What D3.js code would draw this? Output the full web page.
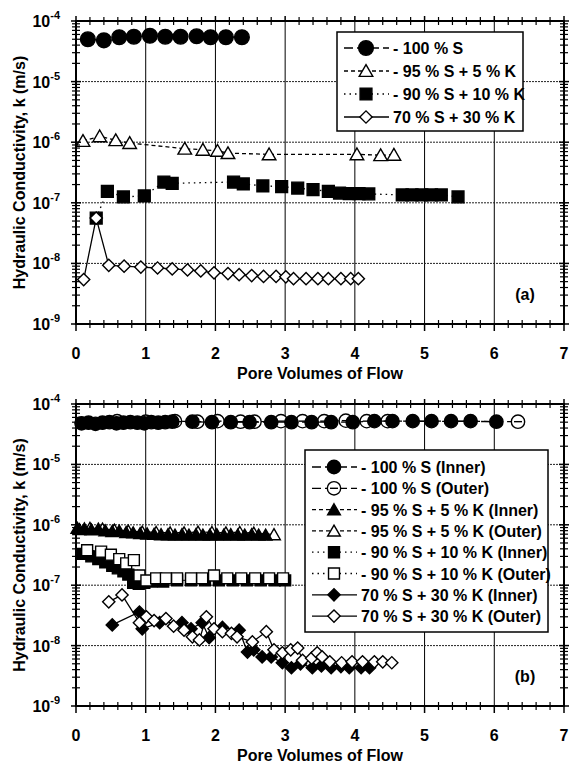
<!DOCTYPE html>
<html>
<head>
<meta charset="utf-8">
<script src="https://cdn.jsdelivr.net/npm/d3@7"></script>
<style>
  body { margin: 0; background: #fff; }
  svg { display: block; }
  text { font-family: "Liberation Sans", Arial, sans-serif; font-weight: bold; fill: #000; }
</style>
</head>
<body>
<svg id="chart" width="569" height="764"></svg>
<script>
// ---- panel (a) ----
const a100_x = [0.17, 0.40, 0.62, 0.83, 1.06, 1.28, 1.50, 1.73, 1.93, 2.15, 2.38];
const a100_k = [5.0e-5, 4.8e-5, 5.4e-5, 5.5e-5, 5.7e-5, 5.5e-5, 5.5e-5, 5.6e-5, 5.4e-5, 5.4e-5, 5.4e-5];

const a95_x = [0.10, 0.34, 0.57, 0.77, 1.56, 1.82, 2.03, 2.18, 2.77, 4.03, 4.37, 4.56];
const a95_k = [1.05e-6, 1.25e-6, 1.08e-6, 0.97e-6, 7.8e-7, 7.5e-7, 7.2e-7, 6.6e-7, 6.3e-7, 6.3e-7, 6.1e-7, 6.2e-7];

const a90_x = [0.29, 0.45, 0.68, 0.98, 1.26, 1.38, 2.26, 2.40, 2.68, 2.95, 3.18, 3.40, 3.62, 3.78, 3.92, 4.06, 4.20, 4.68, 4.82, 4.96, 5.10, 5.24, 5.48];
const a90_k = [5.6e-8, 1.55e-7, 1.25e-7, 1.3e-7, 2.2e-7, 2.1e-7, 2.2e-7, 2.05e-7, 1.9e-7, 1.85e-7, 1.75e-7, 1.65e-7, 1.55e-7, 1.45e-7, 1.42e-7, 1.42e-7, 1.4e-7, 1.35e-7, 1.35e-7, 1.35e-7, 1.35e-7, 1.35e-7, 1.25e-7];

const a70_x = [0.11, 0.29, 0.47, 0.69, 0.93, 1.17, 1.38, 1.60, 1.79, 1.98, 2.18, 2.34, 2.52, 2.69, 2.87, 3.01, 3.12, 3.30, 3.47, 3.62, 3.80, 3.94, 4.05];
const a70_k = [5.4e-9, 5.6e-8, 9.3e-9, 9.0e-9, 8.7e-9, 8.4e-9, 8.1e-9, 7.8e-9, 7.5e-9, 7.0e-9, 6.8e-9, 6.5e-9, 6.3e-9, 6.1e-9, 6.1e-9, 6.0e-9, 5.6e-9, 5.6e-9, 5.6e-9, 5.6e-9, 5.6e-9, 5.6e-9, 5.6e-9];

// ---- panel (b) ----
const b100in_x = [0.08, 0.18, 0.28, 0.38, 0.48, 0.58, 0.68, 0.78, 0.88, 0.98, 1.08, 1.18, 1.28, 1.38, 1.67, 1.95, 2.22, 2.49, 2.80, 3.09, 3.38, 3.66, 3.97, 4.28, 4.54, 4.83, 5.10, 5.38, 5.66, 6.03];
const b100in_k = [4.8e-5, 4.9e-5, 4.7e-5, 4.9e-5, 5.0e-5, 4.8e-5, 4.9e-5, 5.0e-5, 4.9e-5, 4.8e-5, 5.0e-5, 4.9e-5, 5.0e-5, 5.1e-5, 5.1e-5, 5.0e-5, 5.0e-5, 5.0e-5, 5.0e-5, 5.0e-5, 5.0e-5, 5.0e-5, 5.0e-5, 5.2e-5, 5.2e-5, 5.2e-5, 5.2e-5, 5.2e-5, 5.2e-5, 5.1e-5];

const b100out_x = [0.59, 1.00, 1.42, 1.74, 2.03, 2.36, 2.56, 2.94, 3.25, 3.56, 3.87, 4.17, 4.47, 6.34];
const b100out_k = [5.2e-5, 5.1e-5, 5.2e-5, 5.1e-5, 5.2e-5, 5.1e-5, 5.1e-5, 5.2e-5, 5.2e-5, 5.2e-5, 5.3e-5, 5.2e-5, 5.2e-5, 5.1e-5];

const b95in_x = [0.02, 0.12, 0.22, 0.32, 0.42, 0.52, 0.62, 0.72, 0.82, 0.92, 1.02, 1.12, 1.22, 1.32, 1.42, 1.52, 1.62, 1.72, 1.82, 1.92, 2.02, 2.12, 2.22, 2.32, 2.42, 2.52, 2.62, 2.72];
const b95in_k = [8.8e-7, 8.6e-7, 8.3e-7, 8.5e-7, 8.0e-7, 7.8e-7, 7.9e-7, 7.5e-7, 7.4e-7, 7.2e-7, 7.1e-7, 7.0e-7, 6.9e-7, 6.9e-7, 6.8e-7, 6.9e-7, 6.8e-7, 6.9e-7, 6.8e-7, 6.8e-7, 6.9e-7, 6.8e-7, 6.9e-7, 6.8e-7, 6.8e-7, 6.9e-7, 6.8e-7, 6.8e-7];

const b95out_x = [0.05, 0.20, 0.38, 0.55, 0.75, 0.95, 1.15, 1.35, 1.55, 1.75, 1.95, 2.15, 2.35, 2.55, 2.84];
const b95out_k = [8.4e-7, 8.8e-7, 8.5e-7, 8.2e-7, 7.9e-7, 7.6e-7, 7.5e-7, 7.4e-7, 7.4e-7, 7.6e-7, 7.5e-7, 7.4e-7, 7.5e-7, 7.3e-7, 6.9e-7];

const b90in_x = [0.10, 0.22, 0.32, 0.42, 0.52, 0.60, 0.68, 0.75, 0.82, 0.90, 0.98, 1.08, 1.25, 1.45, 1.65, 1.85, 2.05, 2.25, 2.45, 2.65, 2.85, 3.00];
const b90in_k = [3.3e-7, 3.0e-7, 2.7e-7, 2.4e-7, 2.1e-7, 1.9e-7, 1.7e-7, 1.5e-7, 1.1e-7, 1.05e-7, 1.1e-7, 1.15e-7, 1.15e-7, 1.2e-7, 1.2e-7, 1.2e-7, 1.2e-7, 1.2e-7, 1.2e-7, 1.2e-7, 1.2e-7, 1.2e-7];

const b90out_x = [0.16, 0.36, 0.50, 0.62, 0.72, 0.83, 0.91, 1.01, 1.15, 1.29, 1.45, 1.65, 1.81, 1.98, 2.17, 2.37, 2.57, 2.77, 2.97];
const b90out_k = [3.8e-7, 3.6e-7, 3.2e-7, 2.7e-7, 2.3e-7, 2.6e-7, 1.45e-7, 1.2e-7, 1.3e-7, 1.3e-7, 1.3e-7, 1.3e-7, 1.3e-7, 1.45e-7, 1.3e-7, 1.3e-7, 1.3e-7, 1.3e-7, 1.3e-7];

const b70in_x = [0.52, 0.91, 0.95, 1.20, 1.52, 1.65, 1.81, 1.91, 2.10, 2.34, 2.46, 2.55, 2.67, 2.80, 2.96, 3.09, 3.22, 3.39, 3.52, 3.66, 3.80, 3.92, 4.09, 4.21];
const b70in_k = [2.2e-8, 3.6e-8, 1.9e-8, 2.4e-8, 2.4e-8, 1.9e-8, 2.4e-8, 1.35e-8, 2.0e-8, 1.8e-8, 7.8e-9, 8.5e-9, 6.5e-9, 6.5e-9, 5.2e-9, 4.3e-9, 5.0e-9, 4.3e-9, 4.6e-9, 4.3e-9, 4.5e-9, 4.3e-9, 4.3e-9, 4.3e-9];

const b70out_x = [0.47, 0.66, 0.91, 1.01, 1.12, 1.29, 1.40, 1.55, 1.67, 1.77, 1.87, 1.98, 2.10, 2.23, 2.31, 2.53, 2.73, 2.84, 2.96, 3.08, 3.18, 3.25, 3.38, 3.46, 3.53, 3.64, 3.81, 3.96, 4.11, 4.28, 4.40, 4.53];
const b70out_k = [5.3e-8, 6.9e-8, 2.4e-8, 3.0e-8, 2.6e-8, 2.8e-8, 2.1e-8, 1.8e-8, 1.4e-8, 1.24e-8, 3.0e-8, 1.9e-8, 1.7e-8, 1.6e-8, 1.4e-8, 1.15e-8, 1.7e-8, 8.5e-9, 7.6e-9, 8.5e-9, 9.1e-9, 5.7e-9, 6.2e-9, 7.6e-9, 6.5e-9, 5.4e-9, 5.2e-9, 5.4e-9, 5.4e-9, 5.4e-9, 5.4e-9, 5.2e-9];

const xTicks = [0, 1, 2, 3, 4, 5, 6, 7];
const yExponents = [-4, -5, -6, -7, -8, -9];
const xTitle = "Pore Volumes of Flow";
const yTitle = "Hydraulic Conductivity, k (m/s)";

const dashes = { long: "9,4", dash: "4,3", dot: "1.5,4", solid: null };

const svg = d3.select("#chart");

function markerPath(shape, size) {
  if (shape === "diamond") return d3.symbol(d3.symbolSquare, size)();
  if (shape === "triangle") return d3.symbol(d3.symbolTriangle, size)();
  if (shape === "square") return d3.symbol(d3.symbolSquare, size)();
  return d3.symbol(d3.symbolCircle, size)();
}

function drawMarker(sel, s, cx, cy) {
  const m = sel.append("g").attr("transform", `translate(${cx},${cy})`);
  m.append("path")
    .attr("d", markerPath(s.shape, s.size))
    .attr("transform", s.shape === "diamond" ? "rotate(45)" : s.shape === "triangle" ? "translate(0,1.5)" : null)
    .attr("fill", s.filled ? "#000" : "#fff")
    .attr("stroke", "#000")
    .attr("stroke-width", 1.4);
  if (s.bar) {
    m.append("line").attr("x1", -4).attr("x2", 4).attr("stroke", "#000").attr("stroke-width", 1.4);
  }
}

function drawPanel(p) {
  const x = d3.scaleLinear().domain([0, 7]).range([76, 564]);
  const y = d3.scaleLog().domain([1e-9, 1e-4]).range([p.bottom, p.top]);
  const g = svg.append("g");

  // grid
  g.selectAll(".vg").data(xTicks.slice(1, -1)).enter().append("line")
    .attr("x1", d => x(d)).attr("x2", d => x(d))
    .attr("y1", p.top).attr("y2", p.bottom)
    .attr("stroke", "#000").attr("stroke-width", 1);
  g.selectAll(".hg").data(yExponents.slice(1, -1)).enter().append("line")
    .attr("x1", x(0)).attr("x2", x(7))
    .attr("y1", d => y(Math.pow(10, d))).attr("y2", d => y(Math.pow(10, d)))
    .attr("stroke", "#222").attr("stroke-width", 1).attr("stroke-dasharray", "2,1");

  // series
  const line = d3.line().x(d => x(d[0])).y(d => y(d[1]));
  p.series.forEach(s => {
    const pts = s.x.map((v, i) => [v, s.k[i]]);
    const sg = g.append("g");
    sg.append("path").attr("d", line(pts))
      .attr("fill", "none").attr("stroke", "#000").attr("stroke-width", 1.3)
      .attr("stroke-dasharray", dashes[s.dash]);
    pts.forEach(d => drawMarker(sg, s, x(d[0]), y(d[1])));
  });

  // frame
  g.append("rect")
    .attr("x", x(0)).attr("y", p.top)
    .attr("width", x(7) - x(0)).attr("height", p.bottom - p.top)
    .attr("fill", "none").attr("stroke", "#000").attr("stroke-width", 2);

  // x ticks (minor crossing, major outward)
  const minorX = d3.range(0, 7.001, 0.2).filter(v => Math.abs(v - Math.round(v)) > 1e-6);
  [p.top, p.bottom].forEach(yy => {
    g.append("g").selectAll("line").data(minorX).enter().append("line")
      .attr("x1", d => x(d)).attr("x2", d => x(d))
      .attr("y1", yy - 4).attr("y2", yy + 4)
      .attr("stroke", "#000").attr("stroke-width", 1.2);
  });
  g.append("g").selectAll("line").data(xTicks).enter().append("line")
    .attr("x1", d => x(d)).attr("x2", d => x(d))
    .attr("y1", p.bottom).attr("y2", p.bottom + 7)
    .attr("stroke", "#000").attr("stroke-width", 1.5);
  g.append("g").selectAll("line").data(xTicks).enter().append("line")
    .attr("x1", d => x(d)).attr("x2", d => x(d))
    .attr("y1", p.top - 5).attr("y2", p.top)
    .attr("stroke", "#000").attr("stroke-width", 1.5);

  // y ticks
  const minorY = [];
  yExponents.slice(1).forEach(e => d3.range(2, 10).forEach(m => minorY.push(m * Math.pow(10, e))));
  [x(0), x(7)].forEach(xx => {
    g.append("g").selectAll("line").data(minorY).enter().append("line")
      .attr("x1", xx - 4).attr("x2", xx + 4)
      .attr("y1", d => y(d)).attr("y2", d => y(d))
      .attr("stroke", "#000").attr("stroke-width", 1.2);
    g.append("g").selectAll("line").data(yExponents).enter().append("line")
      .attr("x1", xx - 5).attr("x2", xx + 5)
      .attr("y1", d => y(Math.pow(10, d))).attr("y2", d => y(Math.pow(10, d)))
      .attr("stroke", "#000").attr("stroke-width", 1.5);
  });

  // tick labels
  g.selectAll(".xl").data(xTicks).enter().append("text")
    .attr("x", d => x(d)).attr("y", p.bottom + 35)
    .attr("text-anchor", "middle").attr("font-size", 16)
    .text(d => d);
  const yl = g.selectAll(".yl").data(yExponents).enter().append("text")
    .attr("x", x(0) - 16).attr("y", d => y(Math.pow(10, d)) + 6)
    .attr("text-anchor", "end").attr("font-size", 16);
  yl.append("tspan").text("10");
  yl.append("tspan").attr("dy", -8).attr("font-size", 11).text(d => "-" + Math.abs(d));

  // titles
  g.append("text").attr("x", (x(0) + x(7)) / 2).attr("y", p.bottom + 55)
    .attr("text-anchor", "middle").attr("font-size", 16).text(xTitle);
  g.append("text")
    .attr("transform", `translate(25,${(p.top + p.bottom) / 2}) rotate(-90)`)
    .attr("text-anchor", "middle").attr("font-size", 16).text(yTitle);
  g.append("text").attr("x", 525).attr("y", p.bottom - 24)
    .attr("text-anchor", "middle").attr("font-size", 16).text(p.tag);

  // legend
  const L = p.legend;
  const lg = g.append("g");
  lg.append("rect").attr("x", L.x).attr("y", L.y).attr("width", L.w).attr("height", L.h)
    .attr("fill", "#fff").attr("stroke", "#000").attr("stroke-width", 1.5);
  p.series.slice().sort((a, b) => a.order - b.order).forEach((s, i) => {
    const yy = L.y + L.first + i * L.step;
    lg.append("line").attr("x1", L.x + 7).attr("x2", L.x + 52).attr("y1", yy).attr("y2", yy)
      .attr("stroke", "#000").attr("stroke-width", 1.3).attr("stroke-dasharray", dashes[s.dash]);
    drawMarker(lg, s, L.x + 29, yy);
    lg.append("text").attr("x", L.x + 56).attr("y", yy + 6).attr("font-size", 16).text(s.name);
  });
}

drawPanel({
  top: 21, bottom: 324, tag: "(a)",
  legend: { x: 337, y: 32, w: 186, h: 99, first: 16, step: 23 },
  series: [
    { name: "- 100 % S", x: a100_x, k: a100_k, shape: "circle", filled: true, size: 170, dash: "long", order: 0 },
    { name: "- 95 % S + 5 % K", x: a95_x, k: a95_k, shape: "triangle", filled: false, size: 80, dash: "dash", order: 1 },
    { name: "- 90 % S + 10 % K", x: a90_x, k: a90_k, shape: "square", filled: true, size: 140, dash: "dot", order: 2 },
    { name: "70 % S + 30 % K", x: a70_x, k: a70_k, shape: "diamond", filled: false, size: 75, dash: "solid", order: 3 }
  ]
});

drawPanel({
  top: 404, bottom: 706, tag: "(b)",
  legend: { x: 305, y: 450, w: 243, h: 182, first: 17, step: 21.3 },
  series: [
    { name: "- 100 % S (Outer)", x: b100out_x, k: b100out_k, shape: "circle", filled: false, bar: true, size: 140, dash: "long", order: 1 },
    { name: "- 100 % S (Inner)", x: b100in_x, k: b100in_k, shape: "circle", filled: true, size: 140, dash: "long", order: 0 },
    { name: "- 95 % S + 5 % K (Outer)", x: b95out_x, k: b95out_k, shape: "triangle", filled: false, size: 70, dash: "dash", order: 3 },
    { name: "- 95 % S + 5 % K (Inner)", x: b95in_x, k: b95in_k, shape: "triangle", filled: true, size: 70, dash: "dash", order: 2 },
    { name: "- 90 % S + 10 % K (Inner)", x: b90in_x, k: b90in_k, shape: "square", filled: true, size: 120, dash: "dot", order: 4 },
    { name: "- 90 % S + 10 % K (Outer)", x: b90out_x, k: b90out_k, shape: "square", filled: false, size: 120, dash: "dot", order: 5 },
    { name: "70 % S + 30 % K (Inner)", x: b70in_x, k: b70in_k, shape: "diamond", filled: true, size: 75, dash: "solid", order: 6 },
    { name: "70 % S + 30 % K (Outer)", x: b70out_x, k: b70out_k, shape: "diamond", filled: false, size: 75, dash: "solid", order: 7 }
  ]
});
</script>
</body>
</html>
